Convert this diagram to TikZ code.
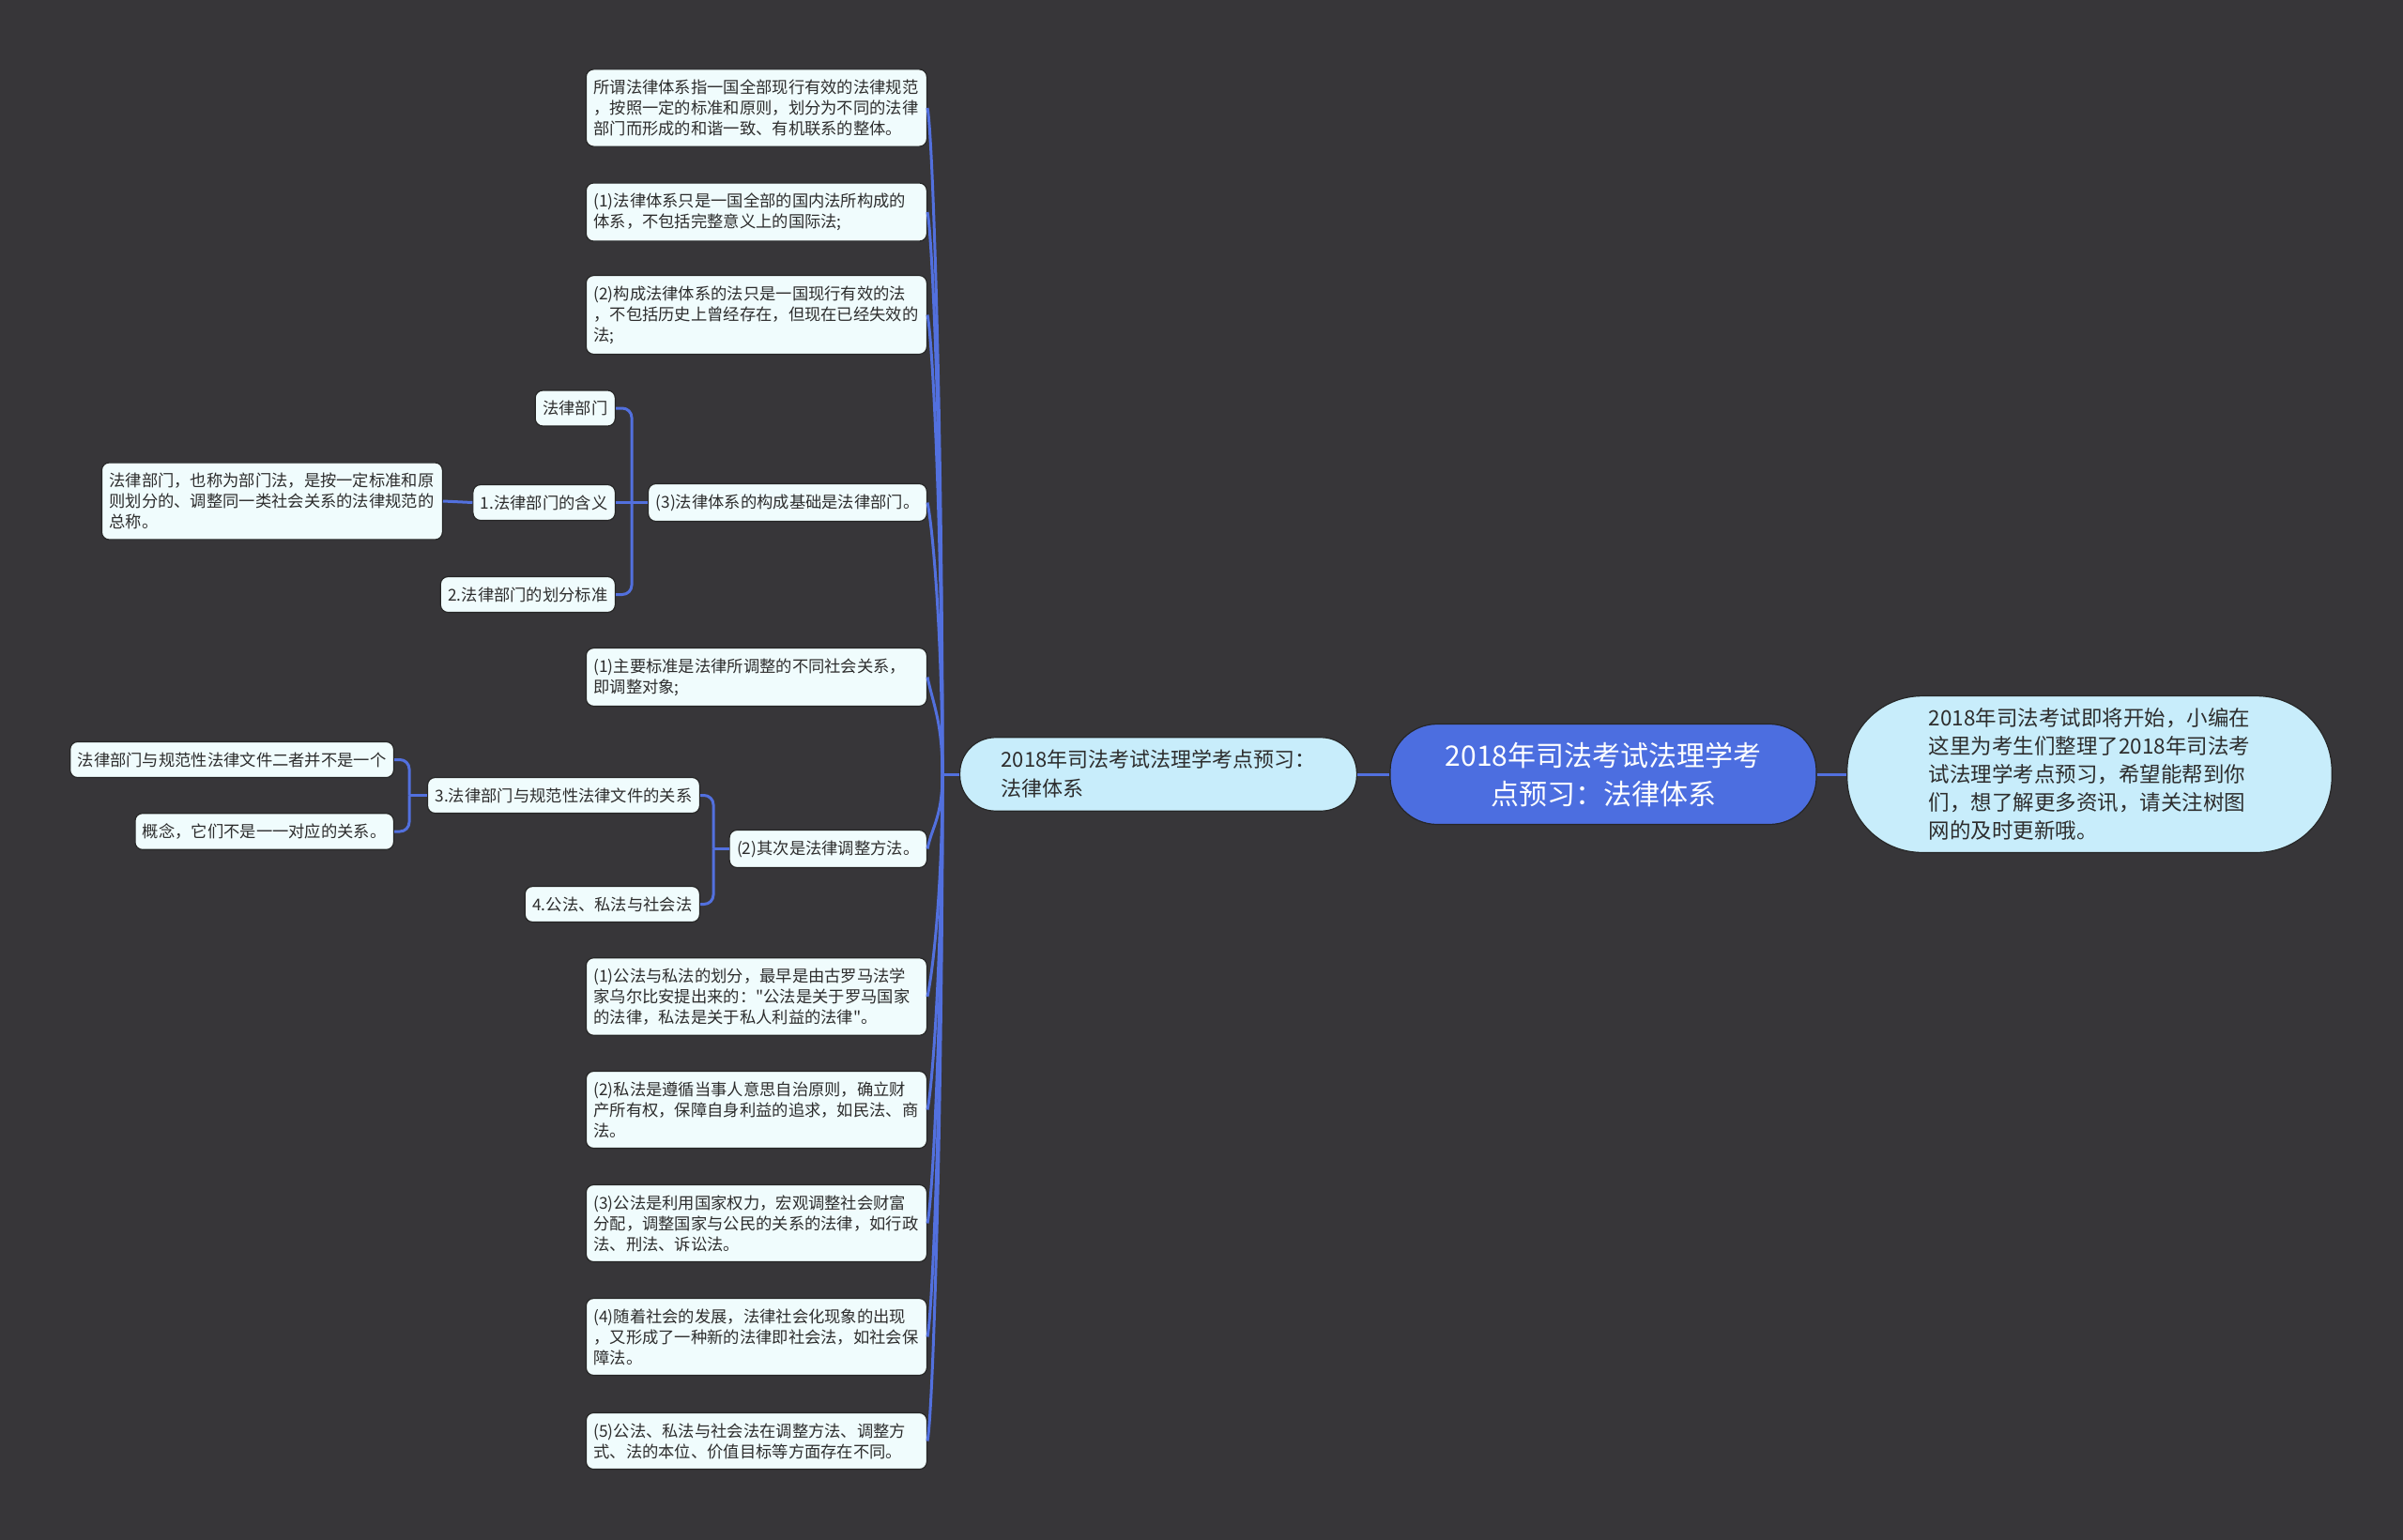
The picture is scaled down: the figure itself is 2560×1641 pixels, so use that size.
\documentclass[tikz,border=0pt]{standalone}
\usepackage{fontspec}
\newfontfamily\cjk{Noto Sans CJK SC}
\usepackage{xcolor}
\definecolor{bgslate}{RGB}{55,54,57}
\definecolor{rootblue}{RGB}{76,110,224}
\definecolor{linkblue}{RGB}{82,112,222}
\definecolor{paleblue}{RGB}{200,237,251}
\definecolor{leafwhite}{RGB}{240,252,253}
\definecolor{inkgray}{RGB}{45,45,45}
\usepackage{tikz}

\begin{document}
\begin{tikzpicture}[x=1pt, y=1pt,
    box/.style={draw=black!85, line width=1.2pt, fill=leafwhite, rounded corners=8pt, text=inkgray,
        font=\cjk\fontsize{17.3}{22}\selectfont, align=left, inner xsep=8pt, inner ysep=11pt},
    leaf/.style={box, text width=347pt},
    link/.style={draw=linkblue, line width=3pt},
    trunkup/.style={out=90, in=-78, in distance=30pt, out distance=#1},
    trunkdown/.style={out=-90, in=78, in distance=30pt, out distance=#1}]
    \useasboundingbox (0,0) rectangle (2560,-1641);
    \fill[bgslate] (0,0) rectangle (2560,-1641);

    % centre and the two big nodes
    \node[draw=black!85, line width=1.2pt, fill=rootblue, rounded corners=50pt, text=white, align=center,
        font=\cjk\fontsize{30}{41}\selectfont, minimum width=454pt, minimum height=107pt] (root) at (1708,-825)
        {2018年司法考试法理学考\\点预习：法律体系};
    \node[draw=black!85, line width=1.2pt, fill=paleblue, rounded corners=80pt, text=inkgray, align=left,
        font=\cjk\fontsize{22.5}{30}\selectfont, inner xsep=87pt, inner ysep=13pt] (intro) at (2226,-825)
        {2018年司法考试即将开始，小编在\\这里为考生们整理了2018年司法考\\试法理学考点预习，希望能帮到你\\们，想了解更多资讯，请关注树图\\网的及时更新哦。};
    \node[draw=black!85, line width=1.2pt, fill=paleblue, rounded corners=38pt, text=inkgray, align=left,
        font=\cjk\fontsize{22}{31}\selectfont, inner xsep=44pt, inner ysep=13.5pt] (topic) at (1234,-825)
        {2018年司法考试法理学考点预习：\\法律体系};

    % the column of leaves
    \node[leaf, anchor=east] (l1) at (988,-115) {所谓法律体系指一国全部现行有效的法律规范\\，按照一定的标准和原则，划分为不同的法律\\部门而形成的和谐一致、有机联系的整体。};
    \node[leaf, anchor=east] (l2) at (988,-226) {(1)法律体系只是一国全部的国内法所构成的\\体系，不包括完整意义上的国际法;};
    \node[leaf, anchor=east] (l3) at (988,-335.5) {(2)构成法律体系的法只是一国现行有效的法\\，不包括历史上曾经存在，但现在已经失效的\\法;};
    \node[box, anchor=east] (l4) at (988,-535.5) {(3)法律体系的构成基础是法律部门。};
    \node[leaf, anchor=east] (l5) at (988,-721.5) {(1)主要标准是法律所调整的不同社会关系，\\即调整对象;};
    \node[box, anchor=east] (l6) at (988,-904.5) {(2)其次是法律调整方法。};
    \node[leaf, anchor=east] (l7) at (988,-1062) {(1)公法与私法的划分，最早是由古罗马法学\\家乌尔比安提出来的："公法是关于罗马国家\\的法律，私法是关于私人利益的法律"。};
    \node[leaf, anchor=east] (l8) at (988,-1182.5) {(2)私法是遵循当事人意思自治原则，确立财\\产所有权，保障自身利益的追求，如民法、商\\法。};
    \node[leaf, anchor=east] (l9) at (988,-1303.5) {(3)公法是利用国家权力，宏观调整社会财富\\分配，调整国家与公民的关系的法律，如行政\\法、刑法、诉讼法。};
    \node[leaf, anchor=east] (l10) at (988,-1424.5) {(4)随着社会的发展，法律社会化现象的出现\\，又形成了一种新的法律即社会法，如社会保\\障法。};
    \node[leaf, anchor=east] (l11) at (988,-1535.5) {(5)公法、私法与社会法在调整方法、调整方\\式、法的本位、价值目标等方面存在不同。};

    % children of (3)
    \node[box, anchor=east] (dept) at (656,-435) {法律部门};
    \node[box, anchor=east] (meaning) at (656,-535.5) {1.法律部门的含义};
    \node[box, anchor=east] (criteria) at (656,-633.5) {2.法律部门的划分标准};
    \node[leaf, anchor=east] (define) at (472,-534) {法律部门，也称为部门法，是按一定标准和原\\则划分的、调整同一类社会关系的法律规范的\\总称。};

    % children of (2)
    \node[box, anchor=east] (relation) at (746,-847.5) {3.法律部门与规范性法律文件的关系};
    \node[box, anchor=east] (threelaws) at (746,-963.5) {4.公法、私法与社会法};
    \node[box, anchor=east] (notone) at (420,-809.5) {法律部门与规范性法律文件二者并不是一个};
    \node[box, anchor=east] (concept) at (420,-886) {概念，它们不是一一对应的关系。};

    % connectors
    \coordinate (hub) at (1004,-825);
    \coordinate (j3) at (673,-535.5);
    \coordinate (j2) at (760,-904.5);
    \coordinate (j4) at (436,-847.5);

    \draw[link] (root.east) -- (intro.west);
    \draw[link] (root.west) -- (topic.east);
    \draw[link] (topic.west) -- (hub);

    \draw[link] (hub) to[trunkup=350pt] (l1.east);
    \draw[link] (hub) to[trunkup=300pt] (l2.east);
    \draw[link] (hub) to[trunkup=240pt] (l3.east);
    \draw[link] (hub) to[trunkup=140pt] (l4.east);
    \draw[link] (hub) to[trunkup=55pt] (l5.east);
    \draw[link] (hub) to[trunkdown=45pt, in distance=25pt] (l6.east);
    \draw[link] (hub) to[trunkdown=120pt] (l7.east);
    \draw[link] (hub) to[trunkdown=180pt] (l8.east);
    \draw[link] (hub) to[trunkdown=240pt] (l9.east);
    \draw[link] (hub) to[trunkdown=300pt] (l10.east);
    \draw[link] (hub) to[trunkdown=350pt] (l11.east);

    \draw[link] (l4.west) -- (meaning.east);
    \draw[link, rounded corners=10pt] (j3) |- (dept.east);
    \draw[link, rounded corners=10pt] (j3) |- (criteria.east);
    \draw[link] (meaning.west) -- (define.east);

    \draw[link] (l6.west) -- (j2);
    \draw[link, rounded corners=10pt] (j2) |- (relation.east);
    \draw[link, rounded corners=10pt] (j2) |- (threelaws.east);

    \draw[link] (relation.west) -- (j4);
    \draw[link, rounded corners=10pt] (j4) |- (notone.east);
    \draw[link, rounded corners=10pt] (j4) |- (concept.east);
\end{tikzpicture}
\end{document}
